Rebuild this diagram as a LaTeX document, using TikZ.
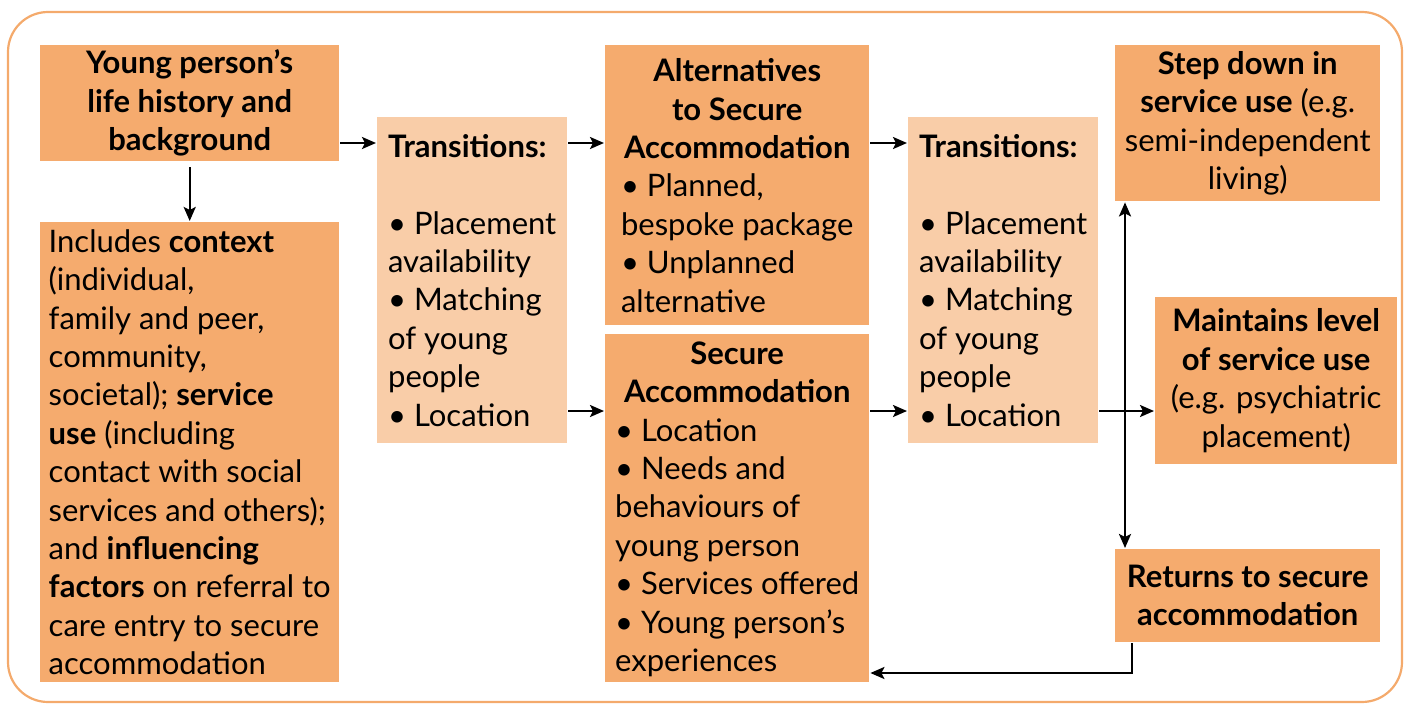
\documentclass[tikz,border=0pt]{standalone}
\usepackage{fontspec}
\setmainfont{Lato}
\usetikzlibrary{arrows.meta}

\definecolor{boxdark}{HTML}{F5AB6E}
\definecolor{boxlight}{HTML}{F9CDA8}
\definecolor{frameorange}{HTML}{F4AA6C}
\newcommand{\bodyfont}{\fontsize{31}{38.4}\selectfont}

\tikzset{every picture/.style={line width=2.4pt}}
\tikzset{
  box/.style={fill=boxdark, anchor=north west, inner sep=0pt, font=\bodyfont},
  lightbox/.style={box, fill=boxlight},
  arr/.style={-{Stealth[length=14pt,width=12pt,inset=3pt]}},
  twoarr/.style={{Stealth[length=14pt,width=12pt,inset=3pt]}-{Stealth[length=14pt,width=12pt,inset=3pt]}}
}

\begin{document}
\begin{tikzpicture}[x=1pt,y=1pt,yscale=-1,xscale=1]
\useasboundingbox (0,0) rectangle (1408,704);

%Frame
\draw [frameorange, line width=2.2pt, rounded corners=40pt] (8,12) rectangle (1402,702);

%Left column
\node [box, minimum width=299pt, minimum height=116pt, align=center, font=\bodyfont\bfseries] (young) at (39,44)
  {Young person’s\\life history and\\background};
\node [box, minimum width=299pt, minimum height=460pt, align=left] (context) at (39,221)
  {Includes \textbf{context}\\(individual,\\family and peer,\\community,\\societal); \textbf{service}\\\textbf{use} (including\\contact with social\\services and others);\\and \textbf{influencing}\\\textbf{factors} on referral to\\care entry to secure\\accommodation};

%Transitions before
\node [lightbox, minimum width=190pt, minimum height=326pt, align=left] (transA) at (376,116)
  {\textbf{Transitions:}\\[38.4pt]\textbullet\ Placement\\availability\\\textbullet\ Matching\\of young\\people\\\textbullet\ Location};

%Middle column
\node [box, minimum width=264pt, minimum height=280pt] (alt) at (604,44)
  {\begin{tabular}{@{}l@{}}
   \multicolumn{1}{@{}c@{}}{\rule{0pt}{35pt}\bfseries Alternatives}\\
   \multicolumn{1}{@{}c@{}}{\bfseries to Secure}\\
   \multicolumn{1}{@{}c@{}}{\bfseries Accommodation}\\
   \textbullet\ Planned,\\bespoke package\\\textbullet\ Unplanned\\alternative
   \end{tabular}};
\node [box, minimum width=264pt, minimum height=348pt] (secure) at (604,333)
  {\raisebox{-1pt}[\dimexpr\height+1pt][\dimexpr\depth-1pt]{\begin{tabular}{@{}l@{}}
   \multicolumn{1}{@{}c@{}}{\bfseries Secure}\\
   \multicolumn{1}{@{}c@{}}{\bfseries Accommodation}\\
   \textbullet\ Location\\\textbullet\ Needs and\\behaviours of\\young person\\\textbullet\ Services offered\\\textbullet\ Young person’s\\experiences
   \end{tabular}}};

%Transitions after
\node [lightbox, minimum width=190pt, minimum height=326pt, align=left] (transB) at (907,116)
  {\textbf{Transitions:}\\[38.4pt]\textbullet\ Placement\\availability\\\textbullet\ Matching\\of young\\people\\\textbullet\ Location};

%Outcomes
\node [box, minimum width=265pt, minimum height=156pt, align=center] (step) at (1114,44)
  {\textbf{Step down in}\\\textbf{service use} (e.g.\\semi-independent\\living)};
\node [box, minimum width=242pt, minimum height=167pt, align=center] (maintain) at (1154,296)
  {\textbf{Maintains level}\\\textbf{of service use}\\(e.g. psychiatric\\placement)};
\node [box, minimum width=265pt, minimum height=93pt, align=center] (returns) at (1114,548)
  {\textbf{Returns to secure}\\\textbf{accommodation}};

%Arrows
\draw [arr] (young.east |- 0,143) -- (transA.west |- 0,143);
\draw [arr] (young.south) ++(0,5) -- (context.north);
\draw [arr] (transA.east |- 0,143) -- (alt.west |- 0,143);
\draw [arr] (transA.east |- 0,411) -- (secure.west |- 0,411);
\draw [arr] (alt.east |- 0,143) -- (transB.west |- 0,143);
\draw [arr] (secure.east |- 0,411) -- (transB.west |- 0,411);
\draw [arr] (transB.east |- 0,411) -- (maintain.west |- 0,411);
\draw [twoarr] (step.south -| 1125,0) -- (returns.north -| 1125,0);
\draw [arr] (returns.south -| 1132,0) |- (secure.east |- 0,673);

\end{tikzpicture}
\end{document}
